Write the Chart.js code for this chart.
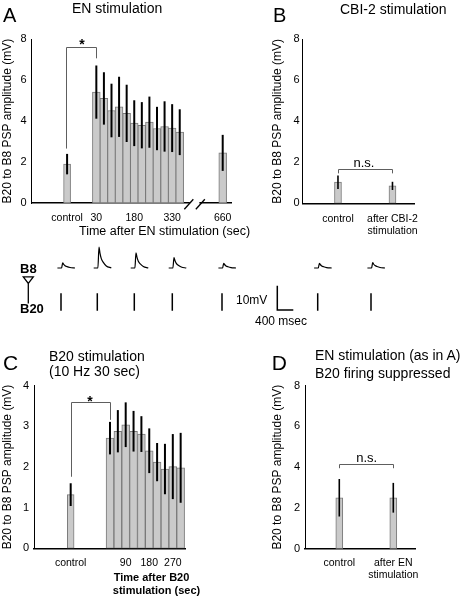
<!DOCTYPE html>
<html><head><meta charset="utf-8">
<script src="https://cdn.jsdelivr.net/npm/chart.js@4.4.1/dist/chart.umd.min.js"></script>
<style>
html,body{margin:0;padding:0;background:#fff;}
#wrap{position:relative;width:474px;height:600px;overflow:hidden;font-family:'Liberation Sans',Arial,sans-serif;color:#000;background:#fff;}
canvas{position:absolute;}
.t{position:absolute;white-space:nowrap;line-height:1;}
</style></head><body><div id="wrap">
<canvas id="cA" width="240" height="240" style="left:0;top:0"></canvas>
<canvas id="cB" width="234" height="240" style="left:240px;top:0"></canvas>
<canvas id="cT" width="474" height="90" style="left:0;top:240px"></canvas>
<canvas id="cC" width="240" height="280" style="left:0;top:320px"></canvas>
<canvas id="cD" width="234" height="280" style="left:240px;top:320px"></canvas>
</div>
<script>
// ---------------- DATA ----------------
// Panel A: EN stimulation (time after stimulation, sec)
const timesA = [30,60,90,120,150,180,210,240,270,300,330,360,660];
const meanA  = [5.42,5.11,4.52,4.70,4.38,3.90,3.80,3.95,3.64,3.74,3.66,3.46,2.45];
const errA   = [1.30,1.28,1.31,1.47,1.40,1.12,1.13,1.25,1.06,1.23,1.17,1.12,0.88];
const controlA = 1.90, controlErrA = 0.50;
const xTickLabelsA = ['control','30','180','330','660'];

// Panel B: CBI-2 stimulation
const catsB = ['control', ['after CBI-2','stimulation']];
const meanB = [1.03, 0.85];
const errB  = [0.33, 0.20];

// Panel C: B20 stimulation (10 Hz 30 sec)
const timesC = [30,60,90,120,150,180,210,240,270,300];
const meanC  = [2.71,2.88,3.04,2.88,2.81,2.40,2.12,1.95,2.01,1.98];
const errC   = [0.40,0.52,0.55,0.50,0.44,0.55,0.47,0.62,0.80,0.86];
const controlC = 1.32, controlErrC = 0.28;
const xTickLabelsC = ['control','90','180','270'];

// Panel D: EN stimulation, B20 firing suppressed
const catsD = ['control', ['after EN','stimulation']];
const meanD = [2.50, 2.50];
const errD  = [0.92, 0.73];

// Example traces: B8 PSP peak amplitudes (mV) in each sweep
const tracePeaks = [2.1, 8.6, 6.2, 4.3, 1.9, 1.9, 2.2];
// PSP waveform template (ms after B20 spike, fraction of peak)
const psTplMs   = [-90, 15, 42, 68, 100, 150, 225, 350];
const psTplFrac = [0, 0, 1, 0.70, 0.45, 0.27, 0.10, 0];

// ---------------- STYLE / LAYOUT ----------------
Chart.defaults.font.family = "'Liberation Sans', Arial, sans-serif";
Chart.defaults.color = '#000';
const BAR_FILL = '#cacaca', BAR_EDGE = '#7a7a7a';
const FONT_TICK = 10.5;

const extras = {
  id: 'extras',
  afterDatasetsDraw(chart, args, o) {
    const ctx = chart.ctx, xs = chart.scales.x, ys = chart.scales.y;
    ctx.save();
    if (o.axisBreak) {
      const yb = ys.getPixelForValue(0);
      const p1 = xs.getPixelForValue(o.axisBreak[0]), p2 = xs.getPixelForValue(o.axisBreak[1]);
      ctx.fillStyle = '#fff';
      ctx.fillRect(p1 + 1, yb - 2, p2 - p1 - 2, 4);
      ctx.strokeStyle = '#000'; ctx.lineWidth = 1.3;
      [p1, p2].forEach(c => { ctx.beginPath(); ctx.moveTo(c - 4.5, yb + 6.3); ctx.lineTo(c + 4.5, yb - 3.7); ctx.stroke(); });
    }
    if (o.bracket) {
      const b = o.bracket;
      const x1 = Math.round(xs.getPixelForValue(b.x1)) + 0.5, x2 = Math.round(xs.getPixelForValue(b.x2)) + 0.5;
      const yt = Math.round(ys.getPixelForValue(b.top)) + 0.5;
      ctx.strokeStyle = '#5e5e5e'; ctx.lineWidth = 1;
      ctx.beginPath();
      ctx.moveTo(x1, ys.getPixelForValue(b.y1)); ctx.lineTo(x1, yt);
      ctx.lineTo(x2, yt); ctx.lineTo(x2, ys.getPixelForValue(b.y2));
      ctx.stroke();
    }
    if (o.errors) {
      ctx.strokeStyle = '#000'; ctx.lineWidth = o.errWidth || 2;
      o.errors.forEach(e => {
        const px = xs.getPixelForValue(e.x);
        ctx.beginPath();
        ctx.moveTo(px, ys.getPixelForValue(e.m - e.e));
        ctx.lineTo(px, ys.getPixelForValue(e.m + e.e));
        ctx.stroke();
      });
    }
    ctx.restore();
  }
};

function barDs(points, thick) {
  return { data: points, barThickness: thick, backgroundColor: BAR_FILL, borderColor: BAR_EDGE,
           borderWidth: 1, grouped: false, borderSkipped: false };
}
function yScale(max, step, width, tickPad) {
  return {
    min: 0, max: max, bounds: 'data',
    ticks: { stepSize: step, padding: tickPad, font: { size: 11 }, color: '#000' },
    grid: { display: false, drawTicks: false },
    border: { display: true, color: '#000', width: 1 },
    afterFit: s => { s.width = width; },
    title: { display: true, text: 'B20 to B8 PSP amplitude (mV)', font: { size: 12 }, color: '#000', padding: { top: 0.3, bottom: 0 } }
  };
}
function xScale(min, max, tickVals, labels, height, pad, lh) {
  return {
    type: 'linear', min: min, max: max, bounds: 'data', offset: false,
    grid: { display: false, drawTicks: false, offset: false },
    border: { display: true, color: '#000', width: 1.5 },
    afterBuildTicks: s => { s.ticks = tickVals.map(v => ({ value: v })); },
    afterFit: s => { s.height = height; },
    ticks: { autoSkip: false, maxRotation: 0, minRotation: 0, padding: pad, color: '#000',
             font: { size: FONT_TICK, lineHeight: lh }, callback: (v, i) => labels[i] }
  };
}
const baseOpts = { responsive: false, animation: false, events: [] };

// ---------- Panel A ----------
const CTRL_A = -85.7, AXIS_SHIFT_A = 130;           // 660 s drawn after the axis break
const posA = t => (t > 360 ? t - AXIS_SHIFT_A : t);
const xTickPosA = [CTRL_A, 30, 180, 330, posA(660)];
new Chart(document.getElementById('cA'), {
  type: 'bar',
  data: { datasets: [
    barDs([{ x: CTRL_A, y: controlA }], 7),
    barDs(timesA.map((t, i) => ({ x: posA(t), y: meanA[i] })), 7.8)
  ] },
  options: Object.assign({}, baseOpts, {
    layout: { padding: { left: 0, top: 39.3, right: 3, bottom: 0 } },
    scales: { x: xScale(-226.5, 566, xTickPosA, xTickLabelsA, 37, 8.4, 1.2), y: yScale(8, 2, 31.5, 5) },
    plugins: { legend: { display: false }, tooltip: { enabled: false },
      extras: {
        errors: [{ x: CTRL_A, m: controlA, e: controlErrA }].concat(timesA.map((t, i) => ({ x: posA(t), m: meanA[i], e: errA[i] }))),
        errWidth: 2,
        bracket: { x1: CTRL_A - 4, x2: 30, y1: 2.66, top: 7.64, y2: 7.07 },
        axisBreak: [396, 441.5]
      } }
  }),
  plugins: [extras]
});

// ---------- Panel B ----------
new Chart(document.getElementById('cB'), {
  type: 'bar',
  data: { datasets: [ barDs(meanB.map((m, i) => ({ x: i + 1, y: m })), 7) ] },
  options: Object.assign({}, baseOpts, {
    layout: { padding: { left: 30, top: 39.3, right: 60, bottom: 0 } },
    scales: { x: xScale(0.349, 2.395, [1, 2], catsB, 36.7, 9.7, 1.15), y: yScale(8, 2, 32.5, 3) },
    plugins: { legend: { display: false }, tooltip: { enabled: false },
      extras: {
        errors: meanB.map((m, i) => ({ x: i + 1, m: m, e: errB[i] })), errWidth: 1.6,
        bracket: { x1: 1, x2: 2, y1: 1.46, top: 1.67, y2: 1.46 }
      } }
  }),
  plugins: [extras]
});

// ---------- Panel C ----------
const CTRL_C = -120.2;
new Chart(document.getElementById('cC'), {
  type: 'bar',
  data: { datasets: [
    barDs([{ x: CTRL_C, y: controlC }], 6.8),
    barDs(timesC.map((t, i) => ({ x: t, y: meanC[i] })), 7.85)
  ] },
  options: Object.assign({}, baseOpts, {
    layout: { padding: { left: 0, top: 65.7, right: 55, bottom: 0 } },
    scales: { x: xScale(-260.4, 316.6, [CTRL_C, 90, 180, 270], xTickLabelsC, 51.7, 8.1, 1.2), y: yScale(4, 1, 34, 5) },
    plugins: { legend: { display: false }, tooltip: { enabled: false },
      extras: {
        errors: [{ x: CTRL_C, m: controlC, e: controlErrC }].concat(timesC.map((t, i) => ({ x: t, m: meanC[i], e: errC[i] }))),
        errWidth: 2,
        bracket: { x1: CTRL_C, x2: 30, y1: 1.76, top: 3.61, y2: 3.16 }
      } }
  }),
  plugins: [extras]
});

// ---------- Panel D ----------
new Chart(document.getElementById('cD'), {
  type: 'bar',
  data: { datasets: [ barDs(meanD.map((m, i) => ({ x: i + 1, y: m })), 7) ] },
  options: Object.assign({}, baseOpts, {
    layout: { padding: { left: 30, top: 65.7, right: 59, bottom: 0 } },
    scales: { x: xScale(0.365, 2.402, [1, 2], catsD, 51.3, 8.5, 1.15), y: yScale(8, 2, 35, 5) },
    plugins: { legend: { display: false }, tooltip: { enabled: false },
      extras: {
        errors: meanD.map((m, i) => ({ x: i + 1, m: m, e: errD[i] })), errWidth: 1.6,
        bracket: { x1: 1, x2: 2, y1: 3.95, top: 4.16, y2: 3.95 }
      } }
  }),
  plugins: [extras]
});

// ---------- Example traces ----------
const MS_PER_PX = 25;
const sweepPx = [61, 97.3, 134.3, 172.3, 222, 317.7, 371];   // where each sweep is placed
const SPIKE_TOP = -10.4, SPIKE_BOT = -17.6;
const b8Pts = [], spikePts = [];
sweepPx.forEach((px, k) => {
  const t0 = px * MS_PER_PX;
  psTplMs.forEach((tm, j) => b8Pts.push({ x: t0 + tm, y: tracePeaks[k] * psTplFrac[j] }));
  b8Pts.push({ x: t0 + 400, y: null });
  spikePts.push({ x: t0, y: SPIKE_TOP }, { x: t0, y: SPIKE_BOT }, { x: t0 + 1, y: null });
});
const SB_X = 277.3 * MS_PER_PX;
const scaleBarPts = [{ x: SB_X, y: -7.3 }, { x: SB_X, y: -17.3 }, { x: SB_X + 400, y: -17.3 }];

const diagram = {
  id: 'diagram',
  afterDraw(chart) {
    const ctx = chart.ctx;
    ctx.save(); ctx.strokeStyle = '#000'; ctx.lineWidth = 1.3;
    ctx.beginPath(); ctx.moveTo(23.3, 36.9); ctx.lineTo(33.3, 36.9); ctx.lineTo(28.3, 43.5); ctx.closePath(); ctx.stroke();
    ctx.beginPath(); ctx.moveTo(28.3, 43.5); ctx.lineTo(28.3, 63.5); ctx.stroke();
    ctx.restore();
  }
};
new Chart(document.getElementById('cT'), {
  type: 'line',
  data: { datasets: [
    { data: b8Pts, borderColor: '#000', borderWidth: 1.2, pointRadius: 0, cubicInterpolationMode: 'monotone', spanGaps: false },
    { data: spikePts, borderColor: '#000', borderWidth: 1.5, pointRadius: 0, tension: 0, spanGaps: false },
    { data: scaleBarPts, borderColor: '#000', borderWidth: 1.5, pointRadius: 0, tension: 0 }
  ] },
  options: Object.assign({}, baseOpts, {
    layout: { padding: 0 },
    scales: { x: { type: 'linear', display: false, min: 0, max: 474 * MS_PER_PX },
              y: { type: 'linear', display: false, min: -25.51, max: 11.52 } },
    plugins: { legend: { display: false }, tooltip: { enabled: false } }
  }),
  plugins: [diagram]
});

// ---------- Text ----------
const wrap = document.getElementById('wrap');
function txt(s, x, base, fs, opt) {
  opt = opt || {};
  const d = document.createElement('div'); d.className = 't'; d.textContent = s;
  d.style.fontSize = fs + 'px'; d.style.top = (base - 0.8465 * fs) + 'px'; d.style.left = x + 'px';
  if (opt.bold) d.style.fontWeight = 'bold';
  if (opt.center) d.style.transform = 'translateX(-50%)';
  wrap.appendChild(d);
}
txt('A', 3, 21.7, 20);
txt('EN stimulation', 72, 13.3, 14);
txt('B', 273, 21.7, 20);
txt('CBI-2 stimulation', 340, 13.5, 14);
txt('*', 82, 48.5, 14, { center: true, bold: true });
txt('n.s.', 364, 166.7, 13, { center: true });
txt('Time after EN stimulation (sec)', 79, 235.3, 12.5);
txt('B8', 20, 273.3, 13, { bold: true });
txt('B20', 20, 313.3, 13, { bold: true });
txt('10mV', 236, 304, 12);
txt('400 msec', 255, 325, 12);
txt('C', 3, 369.3, 21);
txt('B20 stimulation', 49, 360.7, 14);
txt('(10 Hz 30 sec)', 49, 375.7, 14);
txt('*', 90, 406, 14, { center: true, bold: true });
txt('Time after B20', 151.5, 581.7, 11, { center: true, bold: true });
txt('stimulation (sec)', 156.5, 594, 11, { center: true, bold: true });
txt('D', 271.7, 369.3, 21);
txt('EN stimulation (as in A)', 315, 360, 14);
txt('B20 firing suppressed', 315, 378.3, 14);
txt('n.s.', 366.7, 461.7, 13, { center: true });
</script>
</body></html>
